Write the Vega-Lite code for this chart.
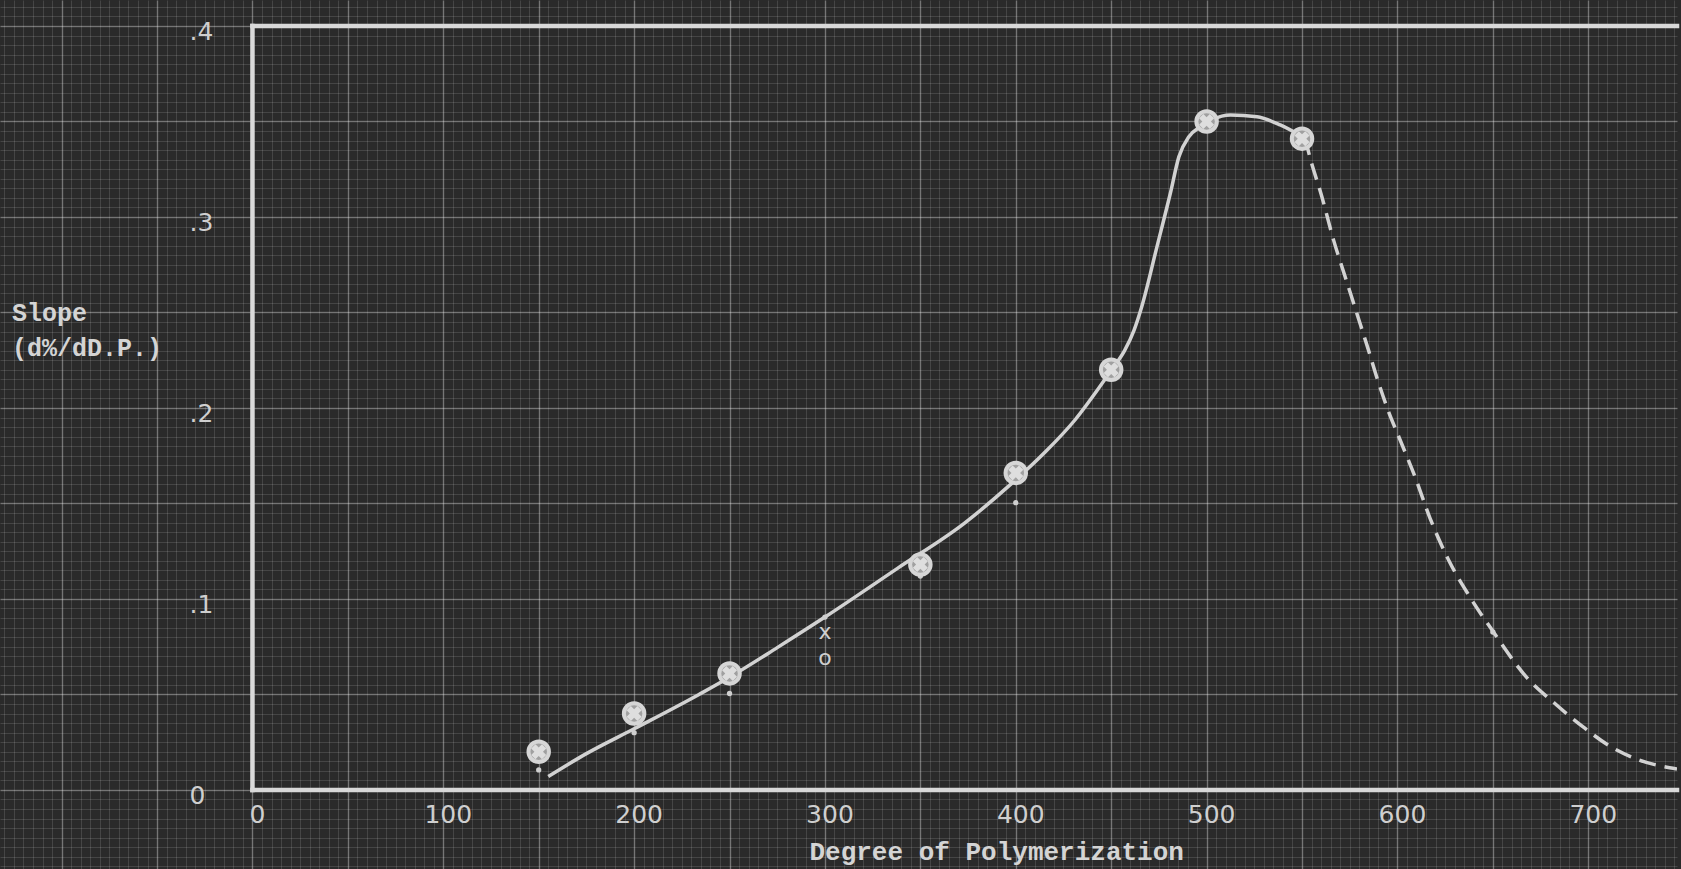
{
  "$schema": "https://vega.github.io/schema/vega-lite/v6.json",
  "width": 1681,
  "height": 869,
  "padding": 0,
  "autosize": {"type": "fit", "contains": "padding"},
  "background": "#2a2a2a",
  "config": {"view": {"stroke": null}},
  "datasets": {
    "frame": [
      {"x1": 0, "x2": 0, "y1": 0, "y2": 0.4},
      {"x1": 0, "x2": 746.5, "y1": 0, "y2": 0},
      {"x1": 0, "x2": 746.5, "y1": 0.4, "y2": 0.4}
    ],
    "solid": [
      {"dp": 155, "slope": 0.007},
      {"dp": 175, "slope": 0.019},
      {"dp": 200, "slope": 0.032},
      {"dp": 234, "slope": 0.050},
      {"dp": 250, "slope": 0.059},
      {"dp": 275, "slope": 0.0745},
      {"dp": 300, "slope": 0.0905},
      {"dp": 338, "slope": 0.116},
      {"dp": 373, "slope": 0.1396},
      {"dp": 397, "slope": 0.1597},
      {"dp": 415, "slope": 0.1765},
      {"dp": 431, "slope": 0.1937},
      {"dp": 445, "slope": 0.2125},
      {"dp": 451, "slope": 0.221},
      {"dp": 457, "slope": 0.2300},
      {"dp": 462, "slope": 0.2408},
      {"dp": 466, "slope": 0.253},
      {"dp": 474, "slope": 0.2845},
      {"dp": 481, "slope": 0.3124},
      {"dp": 485.5, "slope": 0.3316},
      {"dp": 490.7, "slope": 0.342},
      {"dp": 496.8, "slope": 0.3473},
      {"dp": 503, "slope": 0.351},
      {"dp": 512.5, "slope": 0.3534},
      {"dp": 526.4, "slope": 0.3525},
      {"dp": 538.6, "slope": 0.3482},
      {"dp": 551.6, "slope": 0.3412}
    ],
    "dashed": [
      {"dp": 551.6, "slope": 0.3412},
      {"dp": 554.3, "slope": 0.3307},
      {"dp": 560.4, "slope": 0.3106},
      {"dp": 566.5, "slope": 0.288},
      {"dp": 572.6, "slope": 0.2687},
      {"dp": 578.7, "slope": 0.2496},
      {"dp": 584.8, "slope": 0.2304},
      {"dp": 590, "slope": 0.2135},
      {"dp": 595.2, "slope": 0.1985},
      {"dp": 601.3, "slope": 0.1835},
      {"dp": 609.2, "slope": 0.164},
      {"dp": 617, "slope": 0.1425},
      {"dp": 626.8, "slope": 0.1204},
      {"dp": 638, "slope": 0.101},
      {"dp": 650.3, "slope": 0.0827},
      {"dp": 667.5, "slope": 0.0592},
      {"dp": 682.2, "slope": 0.0455},
      {"dp": 697.3, "slope": 0.033},
      {"dp": 712, "slope": 0.0225},
      {"dp": 726.6, "slope": 0.0157},
      {"dp": 746.5, "slope": 0.011}
    ],
    "points": [
      {"dp": 150, "slope": 0.020},
      {"dp": 200, "slope": 0.040},
      {"dp": 250, "slope": 0.061},
      {"dp": 350, "slope": 0.118},
      {"dp": 400, "slope": 0.166},
      {"dp": 450, "slope": 0.220},
      {"dp": 500, "slope": 0.350},
      {"dp": 550, "slope": 0.341}
    ],
    "dots": [
      {"dp": 150, "slope": 0.0105},
      {"dp": 200, "slope": 0.030},
      {"dp": 250, "slope": 0.0505},
      {"dp": 300, "slope": 0.0905},
      {"dp": 350, "slope": 0.112},
      {"dp": 400, "slope": 0.1504},
      {"dp": 650, "slope": 0.0827}
    ],
    "marks300": [
      {"dp": 300, "slope": 0.0825, "sym": "x"},
      {"dp": 300, "slope": 0.0690, "sym": "o"}
    ],
    "yticks": [
      {"label": ".4", "v": 0.4},
      {"label": ".3", "v": 0.3},
      {"label": ".2", "v": 0.2},
      {"label": ".1", "v": 0.1},
      {"label": "0", "v": 0}
    ],
    "xticks": [
      {"label": "0", "v": 0},
      {"label": "100", "v": 100},
      {"label": "200", "v": 200},
      {"label": "300", "v": 300},
      {"label": "400", "v": 400},
      {"label": "500", "v": 500},
      {"label": "600", "v": 600},
      {"label": "700", "v": 700}
    ]
  },
  "resolve": {"axis": {"x": "independent", "y": "independent"}},
  "layer": [
    {
      "data": {"name": "frame"},
      "mark": {"type": "rule", "color": "#d9d9d9", "strokeWidth": 4.5, "strokeCap": "square"},
      "encoding": {
        "x": {"field": "x1", "type": "quantitative",
          "scale": {"domain": [-132.3, 746.5], "nice": false, "zero": false},
          "axis": {"grid": true, "gridColor": "#ffffff", "gridOpacity": 0.13, "gridWidth": 1, "tickCount": 176, "labels": false, "ticks": false, "domain": false, "title": null, "minExtent": 0, "maxExtent": 0}},
        "x2": {"field": "x2"},
        "y": {"field": "y1", "type": "quantitative",
          "scale": {"domain": [-0.0414, 0.4136], "nice": false, "zero": false},
          "axis": {"grid": true, "gridColor": "#ffffff", "gridOpacity": 0.13, "gridWidth": 1, "tickCount": 91, "labels": false, "ticks": false, "domain": false, "title": null, "minExtent": 0, "maxExtent": 0}},
        "y2": {"field": "y2"}
      }
    },
    {
      "data": {"name": "solid"},
      "mark": {"type": "line", "color": "#d2d2d2", "strokeWidth": 3.5, "interpolate": "monotone"},
      "encoding": {
        "x": {"field": "dp", "type": "quantitative",
          "axis": {"grid": true, "gridColor": "#ffffff", "gridOpacity": 0.26, "gridWidth": 1.5, "tickCount": 18, "labels": false, "ticks": false, "domain": false, "title": null, "minExtent": 0, "maxExtent": 0}},
        "y": {"field": "slope", "type": "quantitative",
          "axis": {"grid": true, "gridColor": "#ffffff", "gridOpacity": 0.26, "gridWidth": 1.5, "tickCount": 9, "labels": false, "ticks": false, "domain": false, "title": null, "minExtent": 0, "maxExtent": 0}}
      }
    },
    {
      "data": {"name": "dashed"},
      "mark": {"type": "line", "color": "#d2d2d2", "strokeWidth": 3.5, "interpolate": "monotone", "strokeDash": [17, 9], "clip": true},
      "encoding": {
        "x": {"field": "dp", "type": "quantitative", "axis": null},
        "y": {"field": "slope", "type": "quantitative", "axis": null}
      }
    },
    {
      "data": {"name": "dots"},
      "mark": {"type": "point", "shape": "circle", "filled": true, "color": "#cfcfcf", "size": 28, "opacity": 1},
      "encoding": {
        "x": {"field": "dp", "type": "quantitative", "axis": null},
        "y": {"field": "slope", "type": "quantitative", "axis": null}
      }
    },
    {
      "data": {"name": "points"},
      "mark": {"type": "point", "shape": "circle", "filled": true, "fill": "#a0a0a0", "stroke": "#d6d6d6", "strokeWidth": 4, "size": 420, "opacity": 1},
      "encoding": {
        "x": {"field": "dp", "type": "quantitative", "axis": null},
        "y": {"field": "slope", "type": "quantitative", "axis": null}
      }
    },
    {
      "data": {"name": "points"},
      "mark": {"type": "point", "shape": "cross", "filled": true, "color": "#dedede", "size": 230, "angle": 45, "opacity": 1},
      "encoding": {
        "x": {"field": "dp", "type": "quantitative", "axis": null},
        "y": {"field": "slope", "type": "quantitative", "axis": null}
      }
    },
    {
      "data": {"name": "marks300"},
      "mark": {"type": "text", "color": "#cfcfcf", "fontSize": 22, "font": "DejaVu Sans", "baseline": "middle", "align": "center"},
      "encoding": {
        "x": {"field": "dp", "type": "quantitative", "axis": null},
        "y": {"field": "slope", "type": "quantitative", "axis": null},
        "text": {"field": "sym"}
      }
    },
    {
      "data": {"name": "yticks"},
      "mark": {"type": "text", "color": "#cfcfcf", "fontSize": 25, "font": "Liberation Sans Narrow, DejaVu Sans", "baseline": "middle", "align": "left", "dy": 6},
      "encoding": {
        "x": {"datum": -33, "type": "quantitative", "axis": null},
        "y": {"field": "v", "type": "quantitative", "axis": null},
        "text": {"field": "label"}
      }
    },
    {
      "data": {"name": "xticks"},
      "mark": {"type": "text", "color": "#cfcfcf", "fontSize": 25, "font": "Liberation Sans Narrow, DejaVu Sans", "baseline": "middle", "align": "center", "dx": 5},
      "encoding": {
        "x": {"field": "v", "type": "quantitative", "axis": null},
        "y": {"datum": -0.0131, "type": "quantitative", "axis": null},
        "text": {"field": "label"}
      }
    },
    {
      "data": {"values": [{}]},
      "mark": {"type": "text", "text": "Slope", "color": "#d4d4d4", "fontSize": 25, "font": "Liberation Mono", "fontWeight": "bold", "baseline": "middle", "align": "left"},
      "encoding": {
        "x": {"datum": -126, "type": "quantitative", "axis": null},
        "y": {"datum": 0.2495, "type": "quantitative", "axis": null}
      }
    },
    {
      "data": {"values": [{}]},
      "mark": {"type": "text", "text": "(d%/dD.P.)", "color": "#d4d4d4", "fontSize": 25, "font": "Liberation Mono", "fontWeight": "bold", "baseline": "middle", "align": "left"},
      "encoding": {
        "x": {"datum": -126, "type": "quantitative", "axis": null},
        "y": {"datum": 0.2314, "type": "quantitative", "axis": null}
      }
    },
    {
      "data": {"values": [{}]},
      "mark": {"type": "text", "text": "Degree of Polymerization", "color": "#d4d4d4", "fontSize": 26, "font": "Liberation Mono", "fontWeight": "bold", "baseline": "middle", "align": "center"},
      "encoding": {
        "x": {"datum": 390, "type": "quantitative", "axis": null},
        "y": {"datum": -0.0325, "type": "quantitative", "axis": null}
      }
    }
  ]
}
